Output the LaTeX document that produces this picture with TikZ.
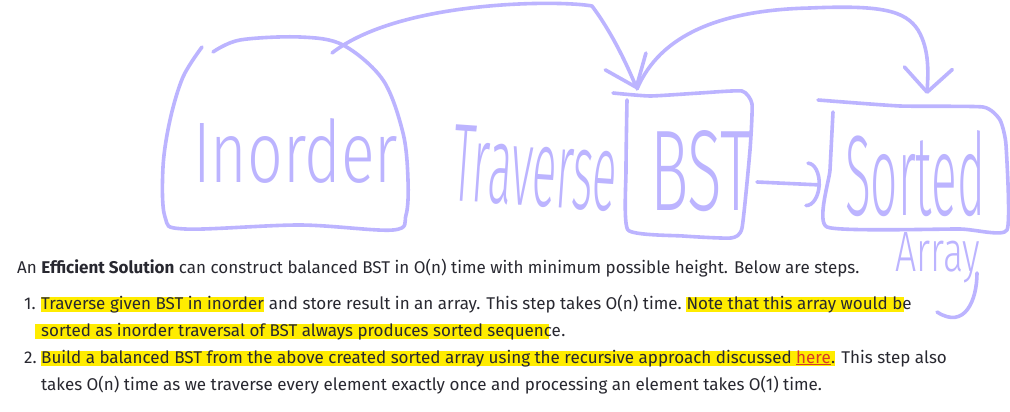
\documentclass[tikz,border=0pt]{standalone}
\usepackage{fontspec}
\setmainfont{Fira Sans}
\newfontfamily\scrawlfont{Fira Sans Light}
\usepackage{graphicx}
\usetikzlibrary{arrows.meta,backgrounds}
\definecolor{ink}{RGB}{40,40,48}
\definecolor{lilac}{RGB}{188,180,255}
\definecolor{hilite}{RGB}{255,236,0}
\definecolor{linkred}{RGB}{214,58,40}
\newcommand{\scrawltext}[3]{\resizebox{#1pt}{#2pt}{#3}}

\begin{document}
\begin{tikzpicture}[x=1pt, y=-1pt, every node/.style={inner sep=0pt}, txt/.style={anchor=base west, font=\fontsize{17}{27}\selectfont, text=ink}, hl/.style={draw=hilite, line width=15pt}, stroke/.style={draw=lilac, line width=3.6pt, line cap=round, line join=round}, scrawl/.style={anchor=base west, text=lilac, font=\scrawlfont\fontsize{60}{60}\selectfont}]
	\useasboundingbox (0,0) rectangle (1010,412);
	\node[txt] (intro) at (17,273) {An \textbf{Efficient Solution} can construct balanced BST in O(n) time with minimum possible height. Below are steps.};
	\node[txt] (num1) at (24,309) {1.};
	\node[txt] (s1a) at (41,309) {Traverse given BST in inorder};
	\node[txt] (s1b) at (s1a.base east) {\ and store result in an array. This step takes O(n) time.\ \mbox{}};
	\node[txt] (s1c) at (s1b.base east) {Note that this array would be};
	\node[txt] (s2a) at (41,336) {sorted as inorder traversal of BST always produces sorted sequence};
	\node[txt] (s2b) at (s2a.base east) {.};
	\node[txt] (num2) at (24,363) {2.};
	\node[txt] (s3a) at (41,363) {Build a balanced BST from the above created sorted array using the recursive approach discussed \textcolor{linkred}{\underline{here}}};
	\node[txt] (s3b) at (s3a.base east) {. This step also};
	\node[txt] (s4) at (41,390) {takes O(n) time as we traverse every element exactly once and processing an element takes O(1) time.};
	\begin{pgfonlayer}{background}
		\fill[white] (0,0) rectangle (1010,412);
		\draw[hl] (s1a.west) -- (s1a.east);
		\draw[hl] (s1c.west) -- ([xshift=-8pt]s1c.east);
		\draw[hl] ([xshift=-6pt]s2a.west) -- ([xshift=-12pt]s2a.east);
		\draw[hl] (s3a.west) -- ([xshift=4pt]s3a.east);
	\end{pgfonlayer}

	\node[scrawl] (inorder) at (193,182) {\scrawltext{205}{64}{Inorder}};
	\node[scrawl, rotate=-4] (traverse) at (450,200) {\scrawltext{165}{76}{Traverse}};
	\node[scrawl] (bst) at (650,210) {\scrawltext{102}{80}{BST}};
	\node[scrawl] (sorted) at (845,215) {\scrawltext{140}{85}{Sorted}};
	\node[scrawl] (array) at (895,271) {\scrawltext{85}{39}{Array}};
	\draw[stroke] plot[smooth, tension=0.55] coordinates {(202,47) (183,77) (170,120) (163,167) (165,217) (185,229) (300,225) (393,230) (406,215) (408,180) (403,133) (383,80) (343,45) (300,37) (240,40) (213,52)};
	\draw[stroke] plot[smooth, tension=0.3] coordinates {(613,93) (650,96) (700,93) (742,91) (752,104) (750,150) (742,228) (731,238) (683,236) (628,230) (626,170) (627,100)};
	\draw[stroke] plot[smooth, tension=0.3] coordinates {(818,100) (900,106) (983,107) (1000,120) (1006,145) (1007,230) (960,229) (827,227) (830,170) (833,112)};
	\draw[stroke] (977,273) .. controls (977,300) and (965,330) .. (937,312);

	\coordinate (blobtop) at (332,53);
	\coordinate (bsttop) at (637,89);
	\coordinate (sortedtop) at (927,94);
	\coordinate (bstside) at (757,182);
	\coordinate (sortedside) at (821,185);
	\draw[stroke, -{Straight Barb[length=28pt, width=44pt, round]}] (blobtop) .. controls (400,0) and (560,0) .. (592,6) .. controls (610,30) and (625,60) .. (bsttop);
	\draw[stroke, -{Straight Barb[length=24pt, width=48pt, round]}] (bsttop) .. controls (660,35) and (720,10) .. (810,8) .. controls (880,5) and (905,10) .. (918,30) .. controls (930,50) and (928,75) .. (sortedtop);
	\draw[stroke, -{Arc Barb[length=14pt, width=46pt, round]}] (bstside) -- (sortedside);
\end{tikzpicture}
\end{document}
